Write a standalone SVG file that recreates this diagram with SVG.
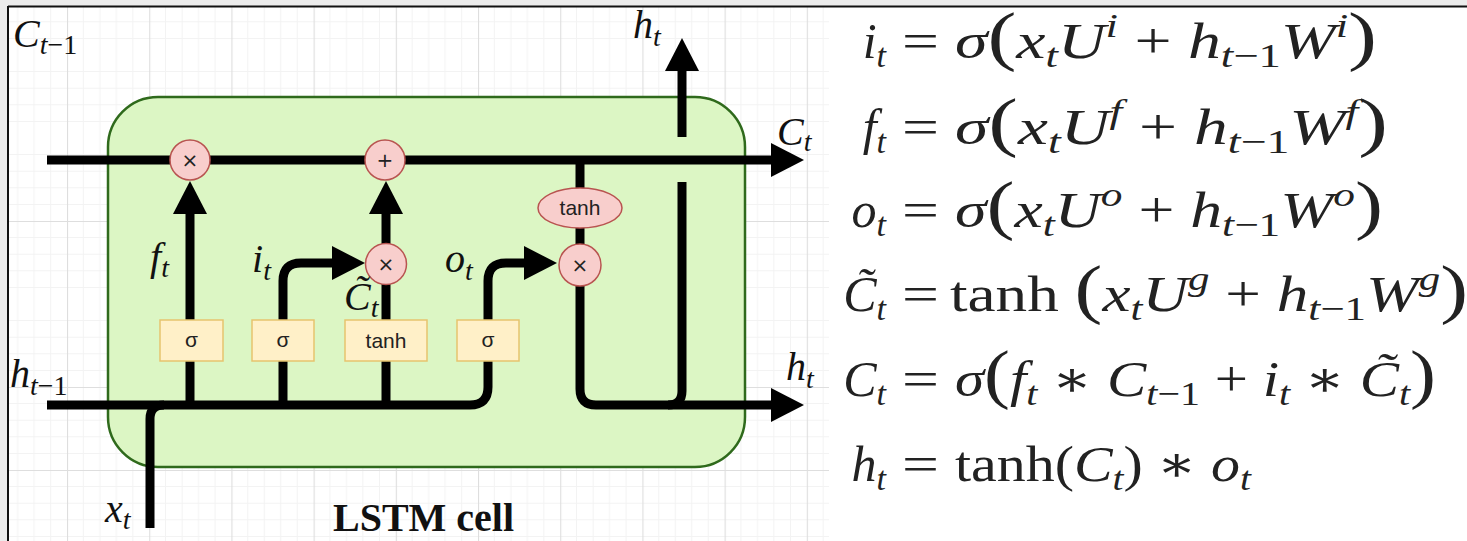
<svg xmlns="http://www.w3.org/2000/svg" width="1467" height="541" viewBox="0 0 1467 541">
<style>
.eq{font-family:"Liberation Serif","DejaVu Serif",serif;font-size:50px;fill:#222}
.it{font-style:italic}
.up{font-style:normal}
.sb{font-size:34px}
.p{font-size:66px}
.lb{font-family:"Liberation Serif","DejaVu Serif",serif;font-style:italic;font-size:40px;fill:#111}
.ls{font-size:28px}
.wire{fill:none;stroke:#000;stroke-width:9}
.op{fill:#f8cecc;stroke:#b85450;stroke-width:1.5}
.gate{fill:#fff0c8;stroke:#e6c46e;stroke-width:1.5}
.nt{font-family:"Liberation Sans",Arial,sans-serif;fill:#222;text-anchor:middle}
.sym{font-family:"DejaVu Sans","Liberation Sans",sans-serif;fill:#222;text-anchor:middle;font-size:20px}
</style>
<defs>
<pattern id="grid" x="-15.2" y="-28" width="82.2" height="83" patternUnits="userSpaceOnUse">
<path d="M16.4,0V83M32.9,0V83M49.3,0V83M65.8,0V83M0,16.6H82.2M0,33.2H82.2M0,49.8H82.2M0,66.4H82.2" stroke="#f3f3f3" stroke-width="1" fill="none"/>
<path d="M0.5,0V83M0,0.5H82.2" stroke="#dedede" stroke-width="1.2" fill="none"/>
</pattern>
<marker id="ah" markerUnits="userSpaceOnUse" markerWidth="34" markerHeight="36" viewBox="0 0 34 36" refX="1" refY="18" orient="auto">
<path d="M0,1 L33,18 L0,35 z" fill="#000"/>
</marker>
</defs>
<rect x="0" y="0" width="1467" height="541" fill="#ffffff"/>
<rect x="0" y="0" width="1467" height="6" fill="#ececec"/>
<rect x="0" y="0" width="8" height="541" fill="#ececec"/>
<rect x="9" y="7" width="820" height="534" fill="url(#grid)"/>
<path d="M8,6.5H1467M8,6V541" stroke="#111" stroke-width="2" fill="none"/>

<g id="cell">
<rect x="108" y="97" width="637" height="370" rx="50" ry="50" fill="#dcf6c4" stroke="#2f6a1c" stroke-width="2.5"/>
</g>

<g id="connectors">
<path class="wire" d="M47,160 L772,160" marker-end="url(#ah)"/>
<path class="wire" d="M47,405 L470,405 Q488,405 488,387 L488,281 Q488,263 506,263 L525,263" marker-end="url(#ah)"/>
<path class="wire" d="M150,528 L150,419 Q150,405 164,405"/>
<path class="wire" d="M190,405 L190,213" marker-end="url(#ah)"/>
<path class="wire" d="M283,405 L283,281 Q283,263 301,263 L333,263" marker-end="url(#ah)"/>
<path class="wire" d="M386,405 L386,213" marker-end="url(#ah)"/>
<path class="wire" d="M580,160 L580,389 Q580,405 596,405 L772,405" marker-end="url(#ah)"/>
<path class="wire" d="M682,182 L682,391 Q682,405 668,405"/>
<path class="wire" d="M682,137 L682,70" marker-end="url(#ah)"/>
</g>

<g id="forget_mul"><circle class="op" cx="190" cy="160" r="20"/><text class="sym" x="190" y="167">×</text></g>
<g id="cell_add"><circle class="op" cx="385" cy="160" r="20"/><text class="sym" x="385" y="167">+</text></g>
<g id="input_mul"><circle class="op" cx="386" cy="264" r="20.5"/><text class="sym" x="386" y="271">×</text></g>
<g id="output_mul"><circle class="op" cx="580" cy="265" r="21"/><text class="sym" x="580" y="272">×</text></g>
<g id="tanh_out"><ellipse class="op" cx="580" cy="208" rx="42" ry="20"/><text class="nt" x="580" y="215" font-size="21">tanh</text></g>
<g id="forget_gate"><rect class="gate" x="160" y="320" width="63" height="41"/><text class="nt" x="191.5" y="347" font-size="21">σ</text></g>
<g id="input_gate"><rect class="gate" x="252" y="320" width="62" height="41"/><text class="nt" x="283" y="347" font-size="21">σ</text></g>
<g id="cand_gate"><rect class="gate" x="345" y="320" width="82" height="41"/><text class="nt" x="386" y="348" font-size="21">tanh</text></g>
<g id="output_gate"><rect class="gate" x="457" y="320" width="62" height="41"/><text class="nt" x="488" y="347" font-size="21">σ</text></g>

<g id="labels">
<text class="lb" x="13" y="47">C<tspan class="ls" dy="7">t<tspan class="up">−1</tspan></tspan></text>
<text class="lb" x="10" y="387">h<tspan class="ls" dy="8">t<tspan class="up">−1</tspan></tspan></text>
<text class="lb" x="105" y="522">x<tspan class="ls" dy="7">t</tspan></text>
<text class="lb" x="633" y="38">h<tspan class="ls" dy="8">t</tspan></text>
<text class="lb" x="777" y="145">C<tspan class="ls" dy="6">t</tspan></text>
<text class="lb" x="786" y="380">h<tspan class="ls" dy="8">t</tspan></text>
<text class="lb" x="150" y="270">f<tspan class="ls" dy="7">t</tspan></text>
<text class="lb" x="252" y="272">i<tspan class="ls" dy="8">t</tspan></text>
<text class="lb" x="344" y="310">C̃<tspan class="ls" dy="7">t</tspan></text>
<text class="lb" x="445" y="272">o<tspan class="ls" dy="8">t</tspan></text>
<text x="333" y="531" font-family="'Liberation Serif',serif" font-weight="bold" font-size="40" fill="#111">LSTM cell</text>
</g>

<g id="equations">
<text class="eq" x="886" y="58" text-anchor="end"><tspan class="it">i</tspan><tspan class="sb it" dy="9">t</tspan></text>
<text class="eq" x="902" y="58" textLength="37" lengthAdjust="spacingAndGlyphs">=</text>
<text class="eq" x="955" y="58" textLength="422" lengthAdjust="spacingAndGlyphs"><tspan class="it">σ</tspan><tspan class="p">(</tspan><tspan class="it">x</tspan><tspan class="sb it" dy="9">t</tspan><tspan class="it" dy="-9">U</tspan><tspan class="sb it" dy="-21">i</tspan><tspan dy="21"> + </tspan><tspan class="it">h</tspan><tspan class="sb" dy="9"><tspan class="it">t</tspan>−1</tspan><tspan class="it" dy="-9">W</tspan><tspan class="sb it" dy="-21">i</tspan><tspan class="p" dy="21">)</tspan></text>

<text class="eq" x="886" y="144" text-anchor="end"><tspan class="it">f</tspan><tspan class="sb it" dy="9">t</tspan></text>
<text class="eq" x="902" y="144" textLength="37" lengthAdjust="spacingAndGlyphs">=</text>
<text class="eq" x="955" y="144" textLength="433" lengthAdjust="spacingAndGlyphs"><tspan class="it">σ</tspan><tspan class="p">(</tspan><tspan class="it">x</tspan><tspan class="sb it" dy="9">t</tspan><tspan class="it" dy="-9">U</tspan><tspan class="sb it" dy="-21">f</tspan><tspan dy="21"> + </tspan><tspan class="it">h</tspan><tspan class="sb" dy="9"><tspan class="it">t</tspan>−1</tspan><tspan class="it" dy="-9">W</tspan><tspan class="sb it" dy="-21">f</tspan><tspan class="p" dy="21">)</tspan></text>

<text class="eq" x="886" y="227" text-anchor="end"><tspan class="it">o</tspan><tspan class="sb it" dy="9">t</tspan></text>
<text class="eq" x="902" y="227" textLength="37" lengthAdjust="spacingAndGlyphs">=</text>
<text class="eq" x="955" y="227" textLength="428" lengthAdjust="spacingAndGlyphs"><tspan class="it">σ</tspan><tspan class="p">(</tspan><tspan class="it">x</tspan><tspan class="sb it" dy="9">t</tspan><tspan class="it" dy="-9">U</tspan><tspan class="sb it" dy="-21">o</tspan><tspan dy="21"> + </tspan><tspan class="it">h</tspan><tspan class="sb" dy="9"><tspan class="it">t</tspan>−1</tspan><tspan class="it" dy="-9">W</tspan><tspan class="sb it" dy="-21">o</tspan><tspan class="p" dy="21">)</tspan></text>

<text class="eq" x="886" y="311" text-anchor="end"><tspan class="it">C̃</tspan><tspan class="sb it" dy="9">t</tspan></text>
<text class="eq" x="902" y="311" textLength="37" lengthAdjust="spacingAndGlyphs">=</text>
<text class="eq" x="950" y="311" textLength="518" lengthAdjust="spacingAndGlyphs">tanh <tspan class="p">(</tspan><tspan class="it">x</tspan><tspan class="sb it" dy="9">t</tspan><tspan class="it" dy="-9">U</tspan><tspan class="sb it" dy="-21">g</tspan><tspan dy="21"> + </tspan><tspan class="it">h</tspan><tspan class="sb" dy="9"><tspan class="it">t</tspan>−1</tspan><tspan class="it" dy="-9">W</tspan><tspan class="sb it" dy="-21">g</tspan><tspan class="p" dy="21">)</tspan></text>

<text class="eq" x="886" y="396" text-anchor="end"><tspan class="it">C</tspan><tspan class="sb it" dy="9">t</tspan></text>
<text class="eq" x="902" y="396" textLength="37" lengthAdjust="spacingAndGlyphs">=</text>
<text class="eq" x="955" y="396" textLength="481" lengthAdjust="spacingAndGlyphs"><tspan class="it">σ</tspan><tspan class="p">(</tspan><tspan class="it">f</tspan><tspan class="sb it" dy="9">t</tspan><tspan dy="-9"> ∗ </tspan><tspan class="it">C</tspan><tspan class="sb" dy="9"><tspan class="it">t</tspan>−1</tspan><tspan dy="-9"> + </tspan><tspan class="it">i</tspan><tspan class="sb it" dy="9">t</tspan><tspan dy="-9"> ∗ </tspan><tspan class="it">C̃</tspan><tspan class="sb it" dy="9">t</tspan><tspan class="p" dy="-9">)</tspan></text>

<text class="eq" x="886" y="481" text-anchor="end"><tspan class="it">h</tspan><tspan class="sb it" dy="9">t</tspan></text>
<text class="eq" x="902" y="481" textLength="37" lengthAdjust="spacingAndGlyphs">=</text>
<text class="eq" x="955" y="481" textLength="296" lengthAdjust="spacingAndGlyphs">tanh(<tspan class="it">C</tspan><tspan class="sb it" dy="9">t</tspan><tspan dy="-9">) ∗ </tspan><tspan class="it">o</tspan><tspan class="sb it" dy="9">t</tspan></text>
</g>
</svg>
